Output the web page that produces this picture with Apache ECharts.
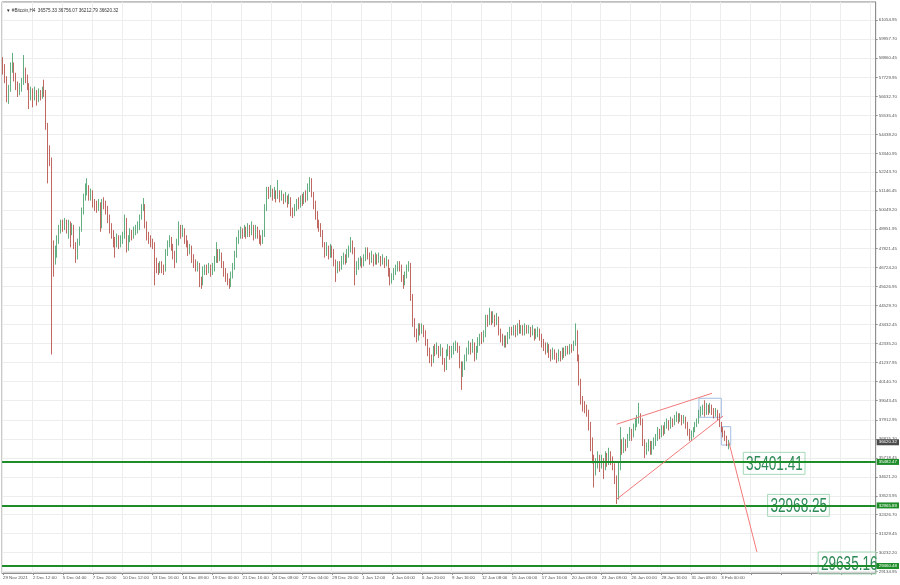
<!DOCTYPE html>
<html><head><meta charset="utf-8">
<script src="https://cdn.jsdelivr.net/npm/echarts@6/dist/echarts.min.js"></script>
<style>html,body{margin:0;padding:0;background:#fff}#c{width:900px;height:585px}</style>
</head><body><div id="c"></div>
<script>
const headerText = '▼ #Bitcoin,H4  36575.33 36756.07 36212.79 36620.32';
const xLabels = ['29 Nov 2021','2 Dec 12:00','5 Dec 04:00','7 Dec 20:00','10 Dec 12:00','13 Dec 16:00','16 Dec 08:00','19 Dec 00:00','21 Dec 16:00','24 Dec 08:00','27 Dec 04:00','29 Dec 20:00','1 Jan 12:00','4 Jan 04:00','6 Jan 20:00','9 Jan 16:00','12 Jan 08:00','15 Jan 00:00','17 Jan 16:00','20 Jan 08:00','23 Jan 08:00','26 Jan 00:00','28 Jan 16:00','31 Jan 08:00','3 Feb 00:00'];
const yTicks = [61054.95,59957.70,58860.45,57729.95,56632.70,55535.45,54438.20,53340.95,52243.70,51146.45,50049.20,48951.95,47821.45,46724.20,45626.95,44529.70,43432.45,42335.20,41237.95,40140.70,39043.45,37912.95,36815.70,35718.45,34621.20,33523.95,32426.70,31329.45,30232.20,29134.95];
const firstOpen = 58500;
const closes = [
58200,57600,56500,57000,58300,58400,57800,57300,56900,57100,
57400,58000,57700,57300,56700,56900,56600,56900,56500,56800,
56700,56900,56850,54900,53500,52950,47500,47400,47600,48300,
48900,49300,49100,49300,49000,49200,48900,49100,48000,47300,
48200,48900,50000,50800,51200,51300,50900,51000,50500,50300,
50200,50400,49100,50500,50400,50100,49600,49000,48700,48200,
48100,48400,48200,48300,48500,49500,47900,48400,48700,48600,
48800,48900,49100,49600,50200,50300,49200,48500,48400,48200,
48100,47000,46800,46600,46900,46700,46600,47600,48100,48300,
48000,47500,47100,48200,49000,48700,48900,48400,48200,47700,
47900,47300,47000,46800,46900,46000,45800,46600,46700,46600,
46800,46500,46700,47200,47600,47300,47500,47000,46500,46200,
45900,45800,46300,46800,47500,48300,48600,48800,48700,48900,
48700,49000,48800,49100,48600,48900,48700,48400,48300,48600,
50200,51100,51000,51200,50900,51100,50900,51000,50800,50900,
50700,50800,50600,50700,50000,49900,50200,50500,50400,50700,
50600,50900,50800,51300,51800,51000,50400,49800,49300,49100,
48800,48100,47600,47900,47500,47800,47600,47100,46600,46900,
46800,47100,47300,47200,47500,47700,48200,47800,46500,46800,
47000,47100,47000,47300,47700,47500,47200,47400,47100,47300,
47200,47300,47100,47200,47000,47100,46500,46000,46200,46500,
46700,46900,46800,46200,45900,46300,46700,46900,45000,43600,
43000,42700,43200,43100,43200,43000,42500,41900,41500,41300,
42000,41900,42100,41800,42000,41400,40900,41800,42000,41700,
41900,42100,42200,42100,41200,40700,41000,41500,41900,42200,
42000,42300,41600,42000,42400,42700,42600,42800,43800,43600,
44000,43700,43900,43600,43800,43000,42700,42500,42600,42400,
42800,43100,43000,43200,43000,43300,43100,43200,43000,43300,
43100,43200,43000,43100,42800,42900,43100,42800,42400,42200,
42000,42200,41800,41600,41900,41700,41500,41800,41600,41900,
41800,42000,41900,42100,42000,42300,43000,41500,40100,39000,
38700,38600,38400,37600,36700,35700,35000,35300,35800,35300,
35600,35200,35800,35500,35900,35600,35300,34500,33400,35200,
36500,36200,36600,36400,36900,37200,37000,37500,37700,37900,
38100,37900,36700,36100,36300,36500,36100,36400,36600,36900,
37300,37000,37400,37200,37600,37800,37500,37900,37700,38000,
38200,37900,38100,37900,38000,37700,37300,36900,37100,37300,
37600,37800,38300,38400,38500,38300,38600,38400,38700,38500,
38300,38400,38200,37700,37400,37200,36900,36575.33,36620.32];
const highs = [
58900,58500,57800,57300,58600,59150,58600,58000,57500,57400,
57700,59030,58300,57900,57400,57200,57100,57200,57000,57100,
57000,57200,57600,57000,55100,53800,53100,48300,48000,48600,
49200,49500,49500,49600,49500,49500,49400,49300,49200,48200,
48400,49100,50200,51000,51600,51900,51500,51300,51200,50700,
50600,50700,50500,50700,50800,50600,50300,49800,49300,48900,
48500,48700,48600,48600,48800,49800,49600,48600,49000,48900,
49100,49200,49400,49800,50400,50750,50400,49400,48800,48600,
48400,48200,47300,47000,47100,47100,46900,47800,48300,48600,
48500,48100,47700,48400,49400,49200,49200,49000,48600,48300,
48100,48000,47500,47200,47100,47000,46200,46800,46900,46900,
47000,46900,47000,47400,48200,47800,47800,47600,47100,46700,
46400,46100,46500,47000,47700,48500,48900,49100,49000,49200,
49100,49300,49200,49400,49200,49200,49100,48900,48600,48900,
50400,51400,51400,51500,51300,51400,51200,51800,51200,51200,
51000,51100,50900,51000,50800,50200,50400,50700,50800,50900,
51000,51100,51200,51600,51960,51900,51100,50600,50000,49500,
49300,48900,48200,48200,48000,48100,48000,47800,47200,47100,
47100,47400,47600,47500,47800,48000,48500,48300,47900,47100,
47300,47400,47300,47500,47900,47900,47600,47700,47500,47600,
47500,47600,47400,47500,47300,47400,47200,46700,46400,46700,
46900,47100,47100,46900,46300,46500,46900,47100,47000,45200,
43800,43200,43500,43500,43500,43400,43100,42600,42100,41700,
42200,42300,42400,42200,42300,42100,41500,42000,42300,42200,
42200,42400,42500,42400,42200,41300,41300,41700,42100,42500,
42400,42600,42400,42200,42700,42900,43000,43100,44000,44000,
44400,44200,44200,44000,44100,43900,43200,42900,42800,42800,
43000,43300,43300,43400,43400,43500,43700,43400,43400,43500,
43400,43400,43300,43400,43200,43200,43300,43200,42900,42600,
42400,42400,42300,42000,42100,42000,41800,42000,41900,42100,
42100,42200,42200,42300,42300,42500,43500,43100,41700,40300,
39300,39000,38800,38500,37800,36900,35900,35700,36100,35900,
35900,35700,36100,36000,36300,36100,35800,35400,34700,35500,
37500,36800,36900,36800,37100,37500,37400,37700,38000,38200,
38900,38300,38000,36800,36600,36800,36700,36700,36900,37100,
37500,37400,37600,37600,37800,38000,37900,38100,38000,38200,
38400,38300,38300,38200,38200,38100,37800,37400,37300,37500,
37800,38000,38500,38700,38800,39050,38900,38800,38900,38800,
38600,38600,38500,38300,37800,37500,37300,37000,36756.07];
const lows = [
57900,57400,56300,56200,56900,58000,57500,57000,56600,56700,
56900,57300,57400,57000,55900,56400,56000,56400,56100,56300,
56400,56500,56600,54700,51600,52600,41700,46200,46900,47300,
48100,48700,48800,48900,48700,48400,47900,48600,47800,47000,
47200,48000,48800,49800,50600,50900,50600,50600,50200,50000,
49900,50000,48800,49000,50100,49800,49300,48700,48400,47900,
47300,47900,47800,47900,48100,48400,47600,47700,48200,48300,
48400,48600,48700,48900,49500,50000,49000,48300,48100,47900,
47800,45700,46400,46300,46400,46400,46300,46500,47400,47900,
47700,47200,46700,47000,48000,48400,48500,48100,47900,47400,
47500,47000,46700,46500,46500,45600,45500,45700,46300,46300,
46400,46200,46300,46500,47000,47000,47100,46700,46200,45900,
45700,45500,45600,46100,46600,47300,48100,48400,48400,48500,
48400,48500,48500,48600,48300,48400,48400,48100,48000,48100,
48500,50000,50700,50800,50600,50700,50500,50700,50500,50600,
50400,50500,50200,50400,49700,49600,49700,50000,50100,50200,
50300,50400,50500,50600,51100,50800,50100,49500,49000,48800,
48500,47900,47300,47400,47200,47300,47300,46800,45900,46400,
46500,46600,46900,46900,47000,47300,47600,47500,45700,46300,
46600,46800,46700,46800,47100,47200,46900,47000,46800,46900,
46900,47000,46800,46900,46700,46800,46200,45700,45800,46000,
46300,46500,46500,45900,45500,45700,46100,46500,44800,43300,
42700,42400,42500,42800,42900,42700,42200,41600,41200,41000,
41200,41600,41700,41500,41600,41100,40700,40800,41600,41400,
41500,41700,41900,41800,40900,39650,40400,40800,41300,41700,
41700,41800,41300,41400,41800,42200,42300,42400,42700,43300,
43400,43400,43500,43300,43400,42800,42400,42200,42100,42100,
42300,42600,42800,42800,42700,42800,42900,42900,42800,42800,
42900,42900,42700,42800,42500,42600,42700,42500,42100,41900,
41700,41800,41500,41300,41400,41400,41200,41300,41300,41400,
41500,41600,41700,41700,41800,41900,42200,41300,39900,38800,
38400,38300,38100,37300,36100,35400,34000,34700,35100,34900,
35100,34500,35000,35200,35300,35300,35000,34200,33050,33300,
35000,35900,36000,36100,36300,36700,36700,36900,37300,37500,
37700,37600,36400,35700,35900,36100,35900,35900,36200,36400,
36700,36800,36900,37000,37100,37400,37300,37400,37500,37600,
37800,37700,37800,37600,37700,37400,37000,36700,36700,36900,
37200,37500,37700,38100,38200,38100,38200,38200,38300,38200,
38000,38100,37900,37500,37200,36900,36700,36400,36212.79];
const levelLines = [35482.47, 32965.89, 29460.48];
const levelTexts = [[396, 35401.41], [409, 32968.25], [436, 29635.16]];
const currentPrice = 36620.32;
const trendLines = [
  [[328, 37662], [379, 39456]],
  [[328, 33322], [385, 38142]],
  [[388, 36638], [403, 30273]]
];
const boxes = [
  [[372, 39166], [384, 38066]],
  [[384, 37523], [389, 36464]]
];
const totalBars = 467;

const cats = Array.from({length: totalBars}, (_, i) => String(i));
const candles = closes.map((c, i) => [i === 0 ? firstOpen : closes[i - 1], c, lows[i], highs[i]]);

const chart = echarts.init(document.getElementById('c'), null, {renderer: 'canvas'});
const small = 4.4;
const gridRightPad = 24;
chart.setOption({
  animation: false,
  backgroundColor: '#ffffff',
  textStyle: {fontFamily: 'Liberation Sans'},
  title: {
    text: headerText, left: 1, top: 3,
    textStyle: {fontSize: 4.6, fontWeight: 'normal', color: '#333', fontFamily: 'Liberation Sans'}
  },
  grid: {left: 0, right: gridRightPad, top: 1.94, bottom: 11.9, show: true, borderColor: '#8f8f8f', borderWidth: 1, backgroundColor: 'transparent'},
  xAxis: {
    type: 'category', data: cats, boundaryGap: true,
    axisLine: {show: true, lineStyle: {color: '#8f8f8f'}},
    axisTick: {show: true, interval: 15, alignWithLabel: true, length: 2, lineStyle: {color: '#8f8f8f'}},
    axisLabel: {
      interval: 15, align: 'left', margin: 2.3, fontSize: small, color: '#555',
      formatter: (v, idx) => xLabels[Math.round(idx / 16)] || ''
    },
    splitLine: {show: true, interval: 15, lineStyle: {color: '#ededed', width: 1}}
  },
  yAxis: {
    type: 'value', position: 'right', min: 29050, max: 62100, scale: true,
    axisLine: {show: true, lineStyle: {color: '#8f8f8f'}},
    axisTick: {show: true, customValues: yTicks, length: 2, lineStyle: {color: '#8f8f8f'}},
    axisLabel: {customValues: yTicks, margin: 3, fontSize: small, color: '#555', formatter: v => v.toFixed(2)},
    splitLine: {show: true, lineStyle: {color: '#ededed', width: 1}}
  },
  series: [
    {
      type: 'candlestick', name: 'BTC', data: candles, barWidth: 0.9, z: 3,
      itemStyle: {color: '#3c9a61', color0: '#b0433b', borderColor: '#3c9a61', borderColor0: '#b0433b', borderWidth: 0.8},
      markLine: {
        symbol: 'none', silent: true, animation: false,
        data: levelLines.map(v => ({
          yAxis: v,
          lineStyle: {color: '#1e8c28', width: 2.2, type: 'solid'},
          label: {show: true, position: 'end', distance: 1, formatter: v.toFixed(2), color: '#fff', backgroundColor: '#1e8c28', fontSize: small, padding: [1.2, 2, 0.8, 2]}
        })).concat([{
          yAxis: currentPrice,
          lineStyle: {color: 'rgba(0,0,0,0)', width: 1, type: 'solid'},
          label: {show: true, position: 'end', distance: 1, formatter: currentPrice.toFixed(2), color: '#fff', backgroundColor: '#4a4a4a', fontSize: small, padding: [1.2, 2, 0.8, 2]}
        }])
      }
    },
    {
      type: 'scatter', name: 'notes', data: levelTexts, symbolSize: 0, silent: true, z: 3,
      label: {show: false},
      markLine: {
        symbol: 'none', silent: true, animation: false,
        lineStyle: {color: '#f27a7a', width: 1, type: 'solid'},
        label: {show: false},
        data: trendLines.map(s => [{coord: s[0]}, {coord: s[1]}])
      },
      markArea: {
        silent: true,
        itemStyle: {color: 'rgba(0,0,0,0)', borderColor: '#a4bfe0', borderWidth: 1},
        data: boxes.map(b => [{coord: b[0]}, {coord: b[1]}])
      }
    }
  ]
});

// big price notes: positioned through the chart's own scales, drawn slightly condensed like the source
const bigFontPx = 20, squeeze = 0.68;
const mctx = document.createElement('canvas').getContext('2d');
mctx.font = bigFontPx + 'px "Liberation Sans"';
const gridRight = chart.getWidth() - gridRightPad;
const graphics = [];
levelTexts.forEach(t => {
  const p = chart.convertToPixel({seriesIndex: 1}, t);
  const txt = t[1].toFixed(2);
  const tw = mctx.measureText(txt).width * squeeze;
  const left = p[0] - 0.5;
  const w = Math.min(tw + 5, gridRight - left);
  graphics.push({
    type: 'rect', z: 1, silent: true,
    shape: {x: left, y: p[1] - 11, width: w, height: 22},
    style: {fill: 'rgba(0,0,0,0)', stroke: '#a6d8b8', lineWidth: 1}
  });
  graphics.push({
    type: 'text', z: 1, silent: true, x: p[0] + 2.3, y: p[1] + 1, scaleX: squeeze, scaleY: 1,
    style: {text: txt, font: bigFontPx + 'px "Liberation Sans"', fill: '#2e8b57', align: 'left', verticalAlign: 'middle'}
  });
});
chart.setOption({graphic: graphics});
</script>
</body></html>
